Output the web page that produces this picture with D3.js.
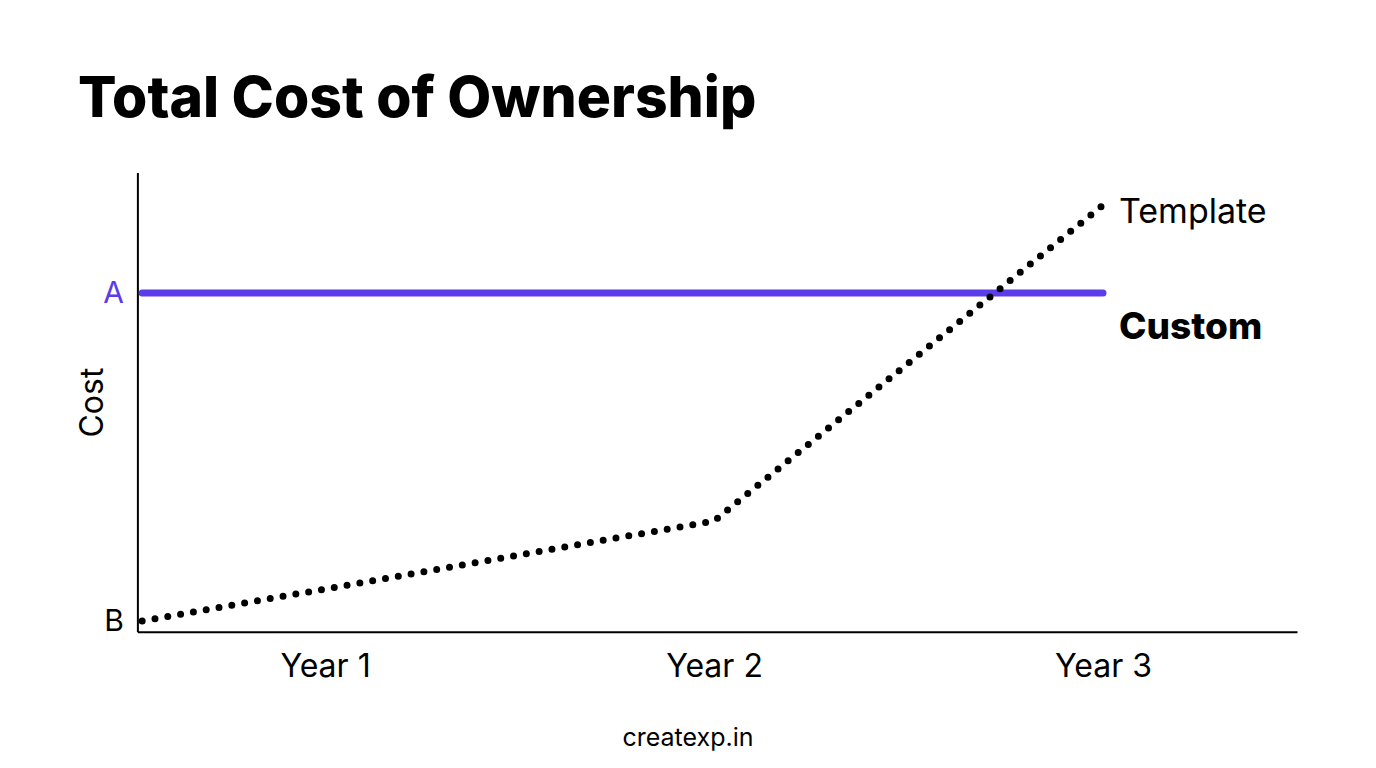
<!DOCTYPE html>
<html>
<head>
<meta charset="utf-8">
<script src="https://cdn.jsdelivr.net/npm/d3@7"></script>
<style>
  body { margin: 0; background: #fff; }
  svg { display: block; font-family: Inter, "Open Sans", sans-serif; }
</style>
</head>
<body>
<div class="graph"></div>
<script>
// data (cost on a 0..100 scale, B = 0, A = 100)
const years = ["Year 1", "Year 2", "Year 3"];
const yearPos = [1, 2, 3];
const templateX = [0.53, 2, 3];
const templateCost = [0, 30.5, 126.8];
const customX = [0.53, 3];
const customCost = [100, 100];
const costTicks = [0, 100];
const costLabels = ["B", "A"];

const w = 1376;
const h = 768;
const purple = "#5c3ce8";

const xScale = d3.scaleLinear()
                 .domain([1, 3])
                 .range([325, 1103]);

const yScale = d3.scaleLinear()
                 .domain([0, 100])
                 .range([621, 293]);

const svg = d3.select(".graph")
              .append("svg")
              .attr("width", w)
              .attr("height", h);

// title
svg.append("text")
   .attr("x", 78)
   .attr("y", 117)
   .attr("font-size", 57)
   .attr("font-weight", 800)
   .attr("fill", "#000")
   .text("Total Cost of Ownership");

const x0 = xScale(0.519);
const x1 = xScale(3.5);
const y0 = yScale(-3.4);
const y1 = yScale(136.6);

// x axis
const xAxis = d3.axisBottom(xScale)
                .tickValues(yearPos)
                .tickFormat((d, i) => years[i])
                .tickSize(0)
                .tickPadding(22);

const gx = svg.append("g")
   .attr("transform", "translate(0," + y0 + ")")
   .call(xAxis);
gx.select(".domain").remove();
gx.append("line")
  .attr("x1", x0).attr("x2", x1)
  .attr("stroke", "#000").attr("stroke-width", 2);
gx.selectAll(".tick text")
  .attr("font-size", 32)
  .attr("font-family", "Inter, 'Open Sans', sans-serif")
  .attr("fill", "#000");

// y axis
const yAxis = d3.axisLeft(yScale)
                .tickValues(costTicks)
                .tickFormat((d, i) => costLabels[i])
                .tickSize(0)
                .tickPadding(14);

const gy = svg.append("g")
   .attr("transform", "translate(" + x0 + ",0)")
   .call(yAxis);
gy.select(".domain").remove();
gy.append("line")
  .attr("y1", y1).attr("y2", y0)
  .attr("stroke", "#000").attr("stroke-width", 2);
gy.selectAll(".tick text")
  .attr("font-size", 30)
  .attr("font-family", "Inter, 'Open Sans', sans-serif")
  .attr("fill", (d, i) => i === 1 ? purple : "#000");

svg.append("text")
   .attr("transform", "translate(103," + ((y0 + y1) / 2) + ") rotate(-90)")
   .attr("text-anchor", "middle")
   .attr("font-size", 32)
   .attr("fill", "#000")
   .text("Cost");

// lines
const line = d3.line()
               .x(d => xScale(d[0]))
               .y(d => yScale(d[1]));

svg.append("path")
   .datum(customX.map((d, i) => [d, customCost[i]]))
   .attr("d", line)
   .attr("fill", "none")
   .attr("stroke", purple)
   .attr("stroke-width", 7)
   .attr("stroke-linecap", "round");

svg.append("path")
   .datum(templateX.map((d, i) => [d, templateCost[i]]))
   .attr("d", line)
   .attr("fill", "none")
   .attr("stroke", "#000")
   .attr("stroke-width", 7)
   .attr("stroke-dasharray", "0 13")
   .attr("stroke-linecap", "round");

// series labels
svg.append("text")
   .attr("x", xScale(3) + 16)
   .attr("y", yScale(templateCost[2]) + 18)
   .attr("font-size", 34)
   .attr("fill", "#000")
   .text("Template");

svg.append("text")
   .attr("x", xScale(3) + 16)
   .attr("y", yScale(100) + 46)
   .attr("font-size", 37)
   .attr("font-weight", 800)
   .attr("fill", "#000")
   .text("Custom");

// footer
svg.append("text")
   .attr("x", 688)
   .attr("y", 746)
   .attr("text-anchor", "middle")
   .attr("font-size", 25)
   .attr("fill", "#000")
   .text("createxp.in");
</script>
</body>
</html>
